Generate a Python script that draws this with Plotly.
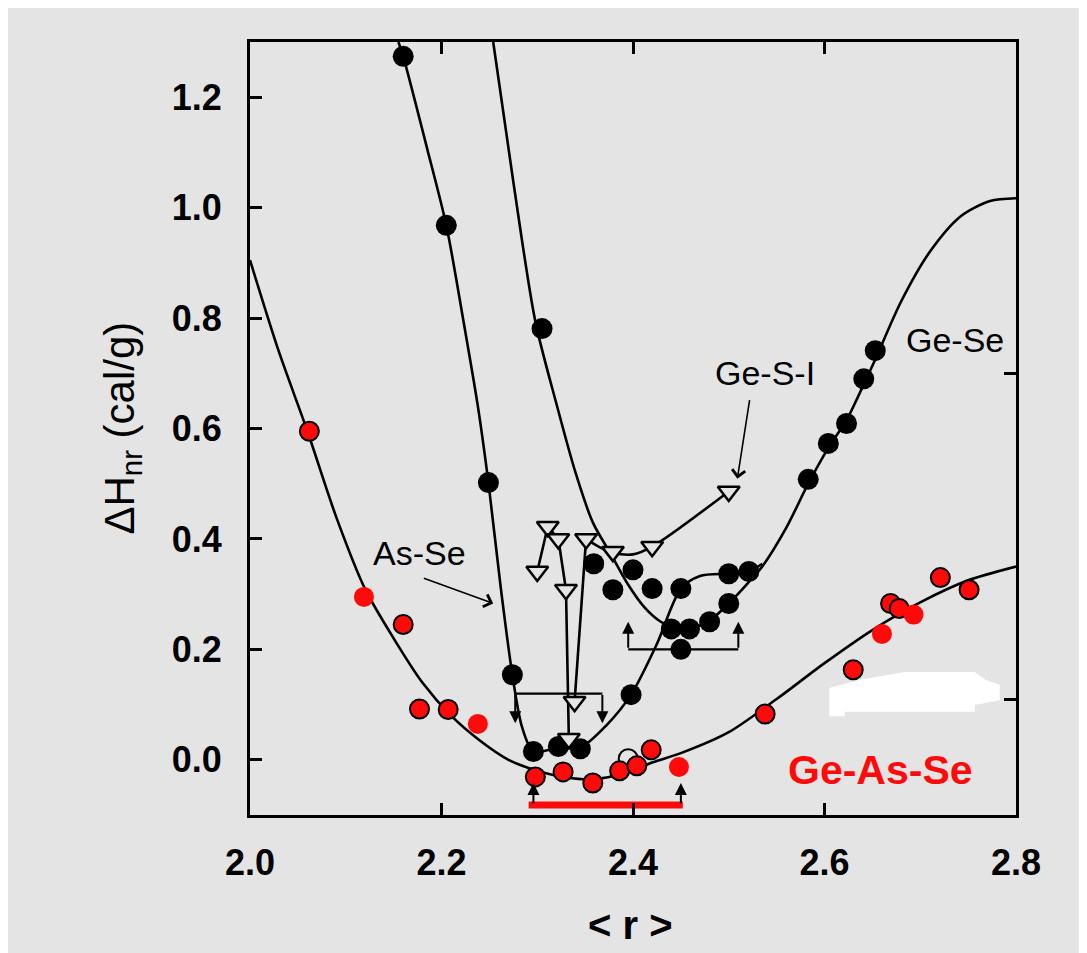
import plotly.graph_objects as go

# ---------------- data ----------------
# Ge-As-Se (red points)
gas_out_x = [2.062, 2.160, 2.177, 2.207, 2.298, 2.327, 2.358, 2.386, 2.404, 2.419, 2.538, 2.630, 2.669, 2.678, 2.721, 2.751]
gas_out_y = [0.595, 0.245, 0.092, 0.091, -0.031, -0.022, -0.042, -0.020, -0.011, 0.018, 0.083, 0.163, 0.283, 0.274, 0.330, 0.308]
gas_plain_x = [2.119, 2.238, 2.448, 2.660, 2.693]
gas_plain_y = [0.295, 0.065, -0.013, 0.228, 0.263]
gas_open_x = [2.395]
gas_open_y = [0.002]

gas_fit_x = [2.00, 2.03, 2.06, 2.09, 2.12, 2.15, 2.18, 2.21, 2.24, 2.27, 2.30, 2.33, 2.36, 2.39, 2.42, 2.45, 2.50, 2.55, 2.60, 2.65, 2.70, 2.75, 2.80]
gas_fit_y = [0.905, 0.74, 0.595, 0.44, 0.31, 0.22, 0.14, 0.08, 0.035, 0.0, -0.02, -0.032, -0.035, -0.025, -0.005, 0.012, 0.05, 0.11, 0.175, 0.235, 0.285, 0.325, 0.35]

# As-Se (black dots)
asse_x = [2.160, 2.205, 2.249, 2.274, 2.296, 2.322, 2.345, 2.398, 2.450, 2.500, 2.521]
asse_y = [1.274, 0.968, 0.502, 0.154, 0.015, 0.024, 0.020, 0.118, 0.310, 0.337, 0.341]
asse_fit_x = [2.155, 2.160, 2.185, 2.205, 2.223, 2.238, 2.249, 2.262, 2.274, 2.284, 2.296, 2.322, 2.345, 2.372, 2.398, 2.425, 2.450, 2.470, 2.500, 2.521, 2.535]
asse_fit_y = [1.30, 1.274, 1.107, 0.968, 0.794, 0.64, 0.502, 0.31, 0.154, 0.06, 0.015, 0.022, 0.022, 0.062, 0.118, 0.21, 0.31, 0.333, 0.337, 0.341, 0.355]

# Ge-Se (black dots)
gese_x = [2.305, 2.359, 2.379, 2.400, 2.420, 2.440, 2.459, 2.450, 2.480, 2.500, 2.583, 2.604, 2.623, 2.641, 2.653]
gese_y = [0.781, 0.355, 0.308, 0.344, 0.310, 0.237, 0.237, 0.200, 0.250, 0.283, 0.508, 0.573, 0.609, 0.690, 0.741]
gese_fit_x = [2.254, 2.275, 2.298, 2.320, 2.340, 2.358, 2.377, 2.395, 2.412, 2.429, 2.448, 2.465, 2.480, 2.500, 2.520, 2.535, 2.560, 2.583, 2.604, 2.623, 2.641, 2.653, 2.680, 2.710, 2.742, 2.773, 2.800]
gese_fit_y = [1.30, 1.047, 0.794, 0.645, 0.52, 0.43, 0.372, 0.317, 0.276, 0.250, 0.236, 0.240, 0.252, 0.283, 0.32, 0.35, 0.42, 0.50, 0.565, 0.615, 0.68, 0.725, 0.83, 0.92, 0.984, 1.012, 1.017]

# Ge-S-I (open triangles)
gesi_x = [2.300, 2.311, 2.322, 2.330, 2.351, 2.379, 2.420, 2.500, 2.339, 2.333]
gesi_y = [0.341, 0.422, 0.400, 0.308, 0.400, 0.377, 0.386, 0.486, 0.105, 0.038]
gesi_seg1_x = [2.300, 2.311]
gesi_seg1_y = [0.341, 0.422]
gesi_seg2_x = [2.311, 2.322, 2.330, 2.333]
gesi_seg2_y = [0.422, 0.400, 0.308, 0.038]
gesi_seg3_x = [2.351, 2.339]
gesi_seg3_y = [0.400, 0.105]
gesi_curve_x = [2.351, 2.365, 2.379, 2.400, 2.420, 2.500]
gesi_curve_y = [0.400, 0.385, 0.375, 0.372, 0.386, 0.486]

# reversibility windows
asse_win_x = [2.277, 2.368]
asse_win_y = 0.12
asse_win_tip = 0.066
gese_win_x = [2.395, 2.510]
gese_win_y = 0.20
gese_win_tip = 0.25
gas_win_x = [2.291, 2.452]
gas_win_y = -0.082
gas_win_tip = -0.042

# axes
x_ticks = [2.0, 2.2, 2.4, 2.6, 2.8]
y_ticks = [0.0, 0.2, 0.4, 0.6, 0.8, 1.0, 1.2]
top_ticks = [2.2, 2.4, 2.6]
right_ticks = [0.11, 0.70]
x_range = [2.0, 2.8]
y_range = [-0.1, 1.3]

BG = "#e4e4e4"
RED = "#ff0a0a"
FONT = "Liberation Sans, Arial, sans-serif"

fig = go.Figure()

def line(x, y, width=2.6, color="black", shape="spline", xa="x", ya="y"):
    fig.add_trace(go.Scatter(x=x, y=y, mode="lines", xaxis=xa, yaxis=ya,
                             line=dict(color=color, width=width, shape=shape, smoothing=0.8),
                             hoverinfo="skip", showlegend=False))

# fit curves
line(gas_fit_x, gas_fit_y)
line(asse_fit_x, asse_fit_y)
line(gese_fit_x, gese_fit_y)
# Ge-S-I connecting lines
line(gesi_seg1_x, gesi_seg1_y, shape="linear")
line(gesi_seg2_x, gesi_seg2_y, shape="linear")
line(gesi_seg3_x, gesi_seg3_y, shape="linear")
line(gesi_curve_x, gesi_curve_y)

# window brackets
line(asse_win_x, [asse_win_y, asse_win_y], width=2.2, shape="linear")
line(gese_win_x, [gese_win_y, gese_win_y], width=2.2, shape="linear")
line(gas_win_x, [gas_win_y, gas_win_y], width=7, color=RED, shape="linear", xa="x2", ya="y2")

# markers
fig.add_trace(go.Scatter(x=asse_x, y=asse_y, mode="markers", showlegend=False,
                         marker=dict(size=21, color="black")))
fig.add_trace(go.Scatter(x=gese_x, y=gese_y, mode="markers", showlegend=False,
                         marker=dict(size=21, color="black")))
fig.add_trace(go.Scatter(x=gesi_x, y=gesi_y, mode="markers", showlegend=False,
                         marker=dict(size=19, symbol="triangle-down", color=BG,
                                     line=dict(color="black", width=2.5))))
fig.add_trace(go.Scatter(x=gas_open_x, y=gas_open_y, mode="markers", showlegend=False,
                         marker=dict(size=19, color=BG, line=dict(color="black", width=2))))
fig.add_trace(go.Scatter(x=gas_out_x, y=gas_out_y, mode="markers", showlegend=False,
                         marker=dict(size=19, color=RED, line=dict(color="black", width=2))))
fig.add_trace(go.Scatter(x=gas_plain_x, y=gas_plain_y, mode="markers", showlegend=False,
                         marker=dict(size=20, color=RED, line=dict(width=0))))

ann = []
def arrow(x0, y0, x1, y1, head=2, size=1.2, width=2):
    ann.append(dict(x=x1, y=y1, ax=x0, ay=y0, xref="x", yref="y", axref="x", ayref="y",
                    showarrow=True, arrowhead=head, arrowsize=size, arrowwidth=width,
                    arrowcolor="black", text=""))

for xv in asse_win_x:
    arrow(xv, asse_win_y, xv, asse_win_tip)
for xv in gese_win_x:
    arrow(xv, gese_win_y, xv, gese_win_tip)
for xv in [gas_win_x[0] + 0.005, gas_win_x[1] - 0.002]:
    arrow(xv, gas_win_y, xv, gas_win_tip)

# label arrows
arrow(2.180, 0.330, 2.254, 0.283, head=4, size=1.6, width=1.6)
arrow(2.522, 0.654, 2.509, 0.509, head=4, size=1.6, width=1.6)

def label(x, y, t, size=34, color="black", bold=False):
    ann.append(dict(x=x, y=y, xref="x", yref="y", text=("<b>%s</b>" % t) if bold else t,
                    showarrow=False, font=dict(family=FONT, size=size, color=color)))

label(2.177, 0.375, "As-Se")
label(2.538, 0.700, "Ge-S-I")
label(2.736, 0.760, "Ge-Se")
label(2.658, -0.018, "Ge-As-Se", size=41, color=RED, bold=True)

# axis titles
ann.append(dict(x=-0.167, y=0.5, xref="paper", yref="paper", textangle=-90,
                xanchor="center", yanchor="middle",
                text="ΔH<sub>nr</sub> (cal/g)", showarrow=False,
                font=dict(family=FONT, size=42, color="black")))
ann.append(dict(x=0.497, y=-0.142, xref="paper", yref="paper",
                xanchor="center", yanchor="middle",
                text="<b>&lt;&nbsp;r&nbsp;&gt;</b>", showarrow=False,
                font=dict(family=FONT, size=40, color="black")))

axis_common = dict(showgrid=False, zeroline=False, showline=True, linecolor="black",
                   linewidth=3, ticks="inside", ticklen=12, tickwidth=2.5, tickcolor="black")

fig.update_layout(
    width=1087, height=953,
    margin=dict(l=242, r=79, t=34, b=146),
    paper_bgcolor=BG, plot_bgcolor=BG,
    showlegend=False,
    xaxis=dict(range=x_range, tickvals=x_ticks, ticktext=["%.1f" % v for v in x_ticks],
               tickfont=dict(family=FONT, size=36, color="black", weight="bold"),
               ticklabelstandoff=14, **axis_common),
    yaxis=dict(range=y_range, tickvals=y_ticks, ticktext=["%.1f" % v for v in y_ticks],
               tickfont=dict(family=FONT, size=36, color="black", weight="bold"),
               ticklabelstandoff=18, **axis_common),
    xaxis2=dict(range=x_range, overlaying="x", side="top", tickvals=top_ticks,
                showticklabels=False, **axis_common),
    yaxis2=dict(range=y_range, overlaying="y", side="right", tickvals=right_ticks,
                showticklabels=False, **axis_common),
    annotations=ann,
    shapes=[dict(type="path", xref="x", yref="y", layer="above",
                 path="M 2.605,0.130 L 2.637,0.145 L 2.684,0.159 L 2.757,0.159 L 2.768,0.145 "
                      "L 2.783,0.136 L 2.783,0.108 L 2.757,0.099 L 2.757,0.087 L 2.621,0.087 "
                      "L 2.621,0.079 L 2.605,0.079 Z",
                 fillcolor="white", line=dict(width=0))],
)

fig.write_html("out.html")
